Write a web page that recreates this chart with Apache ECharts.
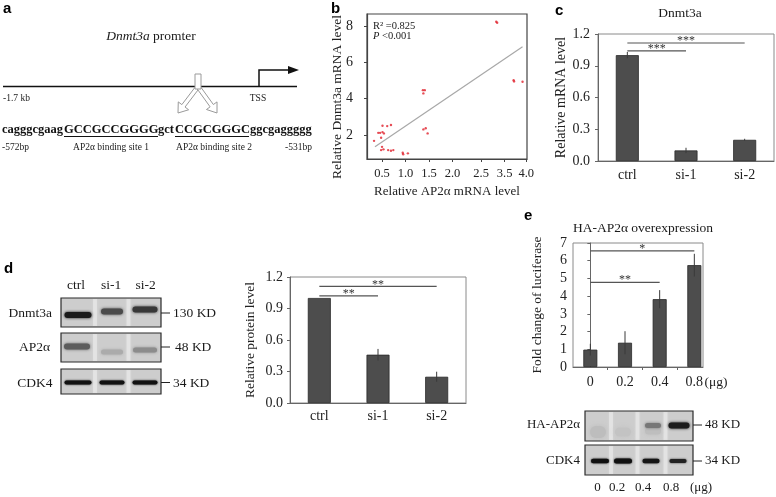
<!DOCTYPE html>
<html>
<head>
<meta charset="utf-8">
<script src="https://cdn.jsdelivr.net/npm/echarts@6/dist/echarts.min.js"></script>
<style>
  html, body { margin: 0; padding: 0; background: #fff; }
  #main { width: 776px; height: 497px; }
</style>
</head>
<body>
<div id="main"></div>
<script>
// ---------- data ----------
// b: AP2α vs Dnmt3a mRNA (x read in the units of the drawn axis)
const scatterX = [2.93, 2.95, 1.37, 1.41, 1.38, 1.38, 1.43, 1.47, 0.33, 0.42, 0.46, 0.51, 0.54,
  0.51, 0.61, 0.69, 0.48, 0.50, 0.53, 0.48, 0.63, 0.69, 0.74, 0.94, 0.95, 1.05, 3.30, 3.31, 3.49]
const scatterY = [8.23, 8.18, 4.47, 4.47, 4.29, 2.31, 2.37, 2.09, 1.68, 2.12, 2.12, 2.16, 2.09,
  2.51, 2.49, 2.55, 1.85, 1.35, 1.21, 1.17, 1.17, 1.13, 1.17, 1.02, 0.94, 0.99, 5.02, 4.95, 4.93]
const fitLine = [[0.35, 1.35], [3.49, 6.86]]
const bTickPos = [0.5, 1.0, 1.5, 2.0, 2.61, 3.11, 3.57]
const bTickLabels = ['0.5', '1.0', '1.5', '2.0', '2.5', '3.5', '4.0']
const bYTicks = [2, 4, 6, 8]

// c: Dnmt3a mRNA after AP2α knockdown
const siCats = ['ctrl', 'si-1', 'si-2']
const cValues = [1.0, 0.1, 0.2]
const cErr = [0.03, 0.025, 0.01]
const cSig = [[0, 1, 1.04, '***'], [0, 2, 1.115, '***']]

// d: relative protein level
const dValues = [1.0, 0.46, 0.25]
const dErr = [0.0, 0.055, 0.048]
const dSig = [[0, 1, 1.02, '**'], [0, 2, 1.11, '**']]

// e: luciferase, HA-AP2α dose
const eCats = ['0', '0.2', '0.4', '0.8']
const eValues = [0.98, 1.37, 3.83, 5.75]
const eErr = [0.33, 0.65, 0.51, 0.64]
const eSig = [[0, 2, 4.78, '**'], [0, 3, 6.55, '*']]

// ---------- helpers ----------
const SERIF = "'Liberation Serif', 'Times New Roman', serif"
const SANS = "'Liberation Sans', Arial, sans-serif"

function T(text, x, y, opt) {
  opt = opt || {}
  const al = opt.align || 'left'
  return {
    type: 'text', x: x, y: y, silent: true, rotation: opt.rotation || 0,
    style: {
      text: text, font: opt.font || ('13px ' + SERIF), fill: opt.fill || '#1a1a1a',
      align: al, textAlign: al, verticalAlign: 'middle', textVerticalAlign: 'middle',
      rich: opt.rich
    }
  }
}
function L(x1, y1, x2, y2, w, c) {
  return { type: 'line', silent: true, shape: { x1, y1, x2, y2 }, style: { stroke: c || '#000', lineWidth: w || 1 } }
}
// hollow arrow outline
function arrow(x0, y0, x1, y1) {
  const dx = x1 - x0, dy = y1 - y0, len = Math.hypot(dx, dy)
  const ux = dx / len, uy = dy / len, nx = -uy, ny = ux
  const sw = 2, hw = 6.5, hl = 9
  const kx = x1 - ux * hl, ky = y1 - uy * hl
  return {
    type: 'polygon', silent: true,
    shape: { points: [
      [x0 + nx * sw, y0 + ny * sw], [kx + nx * sw, ky + ny * sw], [kx + nx * hw, ky + ny * hw], [x1, y1],
      [kx - nx * hw, ky - ny * hw], [kx - nx * sw, ky - ny * sw], [x0 - nx * sw, y0 - ny * sw]
    ] },
    style: { fill: '#fff', stroke: '#9a9a9a', lineWidth: 1 }
  }
}
// western blot strip
function blot(x, y, w, h, lanes, bands) {
  const els = [{ type: 'rect', silent: true, shape: { x, y, width: w, height: h }, style: { fill: '#cdcdcd' } }]
  for (let i = 0; i < lanes.length - 1; i++) {
    const gx = (lanes[i] + lanes[i + 1]) / 2
    els.push({ type: 'rect', silent: true, shape: { x: gx - 2, y: y + 1, width: 4, height: h - 2 },
      style: { fill: 'rgba(255,255,255,0.35)', shadowBlur: 3, shadowColor: 'rgba(255,255,255,0.6)' } })
  }
  bands.forEach(b => els.push({
    type: 'rect', silent: true,
    shape: { x: b[0] - b[2] / 2, y: b[1] - b[3] / 2, width: b[2], height: b[3], r: b[3] / 2 },
    style: { fill: b[4], shadowBlur: b[5] || 3, shadowColor: b[4] }
  }))
  els.push({ type: 'rect', silent: true, shape: { x, y, width: w, height: h }, style: { fill: 'none', stroke: '#2b2b2b', lineWidth: 1.2 } })
  return els
}

function errSeries(xi, values, errs) {
  return {
    type: 'custom', xAxisIndex: xi, yAxisIndex: xi, silent: true, z: 5,
    data: values.map((v, i) => [i, v - errs[i], v + errs[i]]).filter((d, i) => errs[i] > 0),
    renderItem: function (params, api) {
      const lo = api.coord([api.value(0), api.value(1)])
      const hi = api.coord([api.value(0), api.value(2)])
      return { type: 'line', shape: { x1: lo[0], y1: lo[1], x2: hi[0], y2: hi[1] }, style: { stroke: '#3a3a3a', lineWidth: 1 } }
    }
  }
}
function sigSeries(xi, sig) {
  return {
    type: 'custom', xAxisIndex: xi, yAxisIndex: xi, silent: true, z: 6,
    data: sig.map(s => [s[0], s[1], s[2]]),
    renderItem: function (params, api) {
      const a = api.coord([api.value(0), api.value(2)])
      const b = api.coord([api.value(1), api.value(2)])
      return {
        type: 'group', children: [
          { type: 'line', shape: { x1: a[0], y1: a[1], x2: b[0], y2: b[1] }, style: { stroke: '#555', lineWidth: 1.2 } },
          { type: 'text', x: (a[0] + b[0]) / 2, y: a[1] - 2,
            style: { text: sig[params.dataIndex][3], font: '12px ' + SERIF, fill: '#333', align: 'center', verticalAlign: 'middle' } }
        ]
      }
    }
  }
}

const labelStyle = { color: '#222', fontFamily: SERIF, fontSize: 14 }
const nameStyle = { color: '#222', fontFamily: SERIF, fontSize: 14 }
const barStyle = { color: '#4d4d4d', borderColor: '#2a2a2a', borderWidth: 0.8 }

// ---------- panel a, blots, free text ----------
const g = []
// panel letters
g.push(T('a', 3, 9, { font: 'bold 15px ' + SANS, fill: '#000' }))
g.push(T('b', 331, 9, { font: 'bold 15px ' + SANS, fill: '#000' }))
g.push(T('c', 555, 11, { font: 'bold 15px ' + SANS, fill: '#000' }))
g.push(T('d', 4, 269, { font: 'bold 15px ' + SANS, fill: '#000' }))
g.push(T('e', 524, 216, { font: 'bold 15px ' + SANS, fill: '#000' }))

// a: promoter map
g.push(T('{i|Dnmt3a} promter', 151, 36, { align: 'center', font: '13.5px ' + SERIF,
  rich: { i: { fontStyle: 'italic', fontFamily: SERIF, fontSize: 13.5, fill: '#1a1a1a' } } }))
g.push(L(3, 86.5, 297, 86.5, 1.5, '#111'))
g.push({ type: 'polyline', silent: true, shape: { points: [[259, 86.5], [259, 70], [290, 70]] }, style: { stroke: '#111', lineWidth: 1.5, fill: 'none' } })
g.push({ type: 'polygon', silent: true, shape: { points: [[288, 66], [299, 70], [288, 74]] }, style: { fill: '#111' } })
g.push(T('-1.7 kb', 3, 98, { font: '9.5px ' + SERIF }))
g.push(T('TSS', 258, 98, { font: '9.5px ' + SERIF, align: 'center' }))
g.push(arrow(197, 88, 178, 113))
g.push(arrow(199, 88, 217, 113))
g.push({ type: 'rect', silent: true, shape: { x: 195, y: 74, width: 6, height: 15 }, style: { fill: '#fff', stroke: '#9a9a9a', lineWidth: 1 } })
const seqFont = 'bold 12.5px ' + SERIF
g.push(T('cagggcgaag', 2, 129.5, { font: seqFont, fill: '#111' }))
g.push(T('GCCGCCGGGG', 64, 129.5, { font: seqFont, fill: '#111' }))
g.push(T('gct', 158, 129.5, { font: seqFont, fill: '#111' }))
g.push(T('CCGCGGGC', 175, 129.5, { font: seqFont, fill: '#111' }))
g.push(T('ggcgaggggg', 250, 129.5, { font: seqFont, fill: '#111' }))
g.push(L(64, 136.5, 158, 136.5, 1.2, '#111'))
g.push(L(175, 136.5, 249, 136.5, 1.2, '#111'))
g.push(T('-572bp', 2, 147, { font: '9.5px ' + SERIF }))
g.push(T('AP2α binding site 1', 111, 147, { font: '9.5px ' + SERIF, align: 'center' }))
g.push(T('AP2α binding site 2', 214, 147, { font: '9.5px ' + SERIF, align: 'center' }))
g.push(T('-531bp', 312, 147, { font: '9.5px ' + SERIF, align: 'right' }))

// b: y axis title and statistics text
g.push(T('Relative Dnmt3a mRNA level', 337, 97, { align: 'center', font: '13.5px ' + SERIF, fill: '#222', rotation: Math.PI / 2 }))
g.push(T('R² =0.825', 373, 26.5, { font: '10.5px ' + SERIF }))
g.push(T('{i|P} <0.001', 373, 36, { font: '10.5px ' + SERIF,
  rich: { i: { fontStyle: 'italic', fontFamily: SERIF, fontSize: 10.5, fill: '#1a1a1a' } } }))

// c / e chart titles
g.push(T('Dnmt3a', 680, 13, { align: 'center', font: '13.5px ' + SERIF }))
g.push(T('HA-AP2α overexpression', 643, 228, { align: 'center', font: '13.5px ' + SERIF }))
g.push(T('(μg)', 716, 382, { align: 'center', font: '13.5px ' + SERIF }))

// d: western blot
const bf = '13.5px ' + SERIF
g.push(T('ctrl', 76, 285, { align: 'center', font: bf }))
g.push(T('si-1', 111, 285, { align: 'center', font: bf }))
g.push(T('si-2', 145.5, 285, { align: 'center', font: bf }))
const dLanes = [78, 112, 145]
g.push(...blot(61, 298, 100, 29, dLanes, [
  [78, 315, 27, 6, '#1a1a1a'], [112, 311.5, 22, 6, '#4a4a4a'], [145, 309.5, 25, 6, '#383838']]))
g.push(...blot(61, 333, 100, 29, dLanes, [
  [77, 346.5, 26, 6, '#5c5c5c'], [112, 352, 22, 5, '#ababab'], [145, 350, 24, 5, '#8c8c8c']]))
g.push(...blot(61, 369, 100, 25, dLanes, [
  [78, 382.5, 27, 4, '#111', 2], [112, 382.5, 25, 4, '#111', 2], [145, 382.5, 25, 4, '#111', 2]]))
g.push(T('Dnmt3a', 52, 313, { align: 'right', font: bf }))
g.push(T('AP2α', 50, 347, { align: 'right', font: bf }))
g.push(T('CDK4', 52.5, 383, { align: 'right', font: bf }))
g.push(L(161, 313, 170, 313, 1, '#222')); g.push(T('130 KD', 173, 313.5, { font: bf }))
g.push(L(161, 347, 170, 347, 1, '#222')); g.push(T('48 KD', 175, 347.5, { font: bf }))
g.push(L(161, 382.5, 170, 382.5, 1, '#222')); g.push(T('34 KD', 173, 383, { font: bf }))

// e: western blot
const eLanes = [599, 623, 652, 679]
g.push(...blot(585, 411, 108, 30, eLanes, [
  [598, 432, 16, 12, '#bdbdbd', 5], [623, 432, 16, 9, '#c3c3c3', 5],
  [653, 431, 16, 7, '#bebebe', 4],
  [653, 425.5, 16, 5, '#777'], [679, 425.5, 21, 6, '#1c1c1c']]))
g.push(...blot(585, 445, 108, 30, eLanes, [
  [600, 461, 18, 4.5, '#111', 2], [623, 461, 18, 5, '#111', 2], [651, 461, 17, 4.5, '#151515', 2], [678, 461, 17, 4, '#222', 2]]))
g.push(T('HA-AP2α', 580, 424.5, { align: 'right', font: '13px ' + SERIF }))
g.push(T('CDK4', 580, 461, { align: 'right', font: '13px ' + SERIF }))
g.push(L(693, 425, 702, 425, 1, '#222')); g.push(T('48 KD', 705, 425, { font: '13px ' + SERIF }))
g.push(L(693, 461, 702, 461, 1, '#222')); g.push(T('34 KD', 705, 461, { font: '13px ' + SERIF }))
g.push(T('0', 597.5, 488, { align: 'center', font: '13px ' + SERIF }))
g.push(T('0.2', 617, 488, { align: 'center', font: '13px ' + SERIF }))
g.push(T('0.4', 643, 488, { align: 'center', font: '13px ' + SERIF }))
g.push(T('0.8', 671, 488, { align: 'center', font: '13px ' + SERIF }))
g.push(T('(μg)', 701, 488, { align: 'center', font: '13px ' + SERIF }))

// ---------- chart ----------
const chart = echarts.init(document.getElementById('main'))

const near = (arr, v) => arr.findIndex(p => Math.abs(p - v) < 1e-6)

chart.setOption({
  animation: false,
  backgroundColor: '#fff',
  grid: [
    { left: 367, top: 14, width: 160, height: 145, show: true, borderColor: '#444', borderWidth: 1.2 },
    { left: 598, top: 34, width: 176, height: 127, show: true, borderColor: '#8a8a8a', borderWidth: 1 },
    { left: 290, top: 277, width: 176, height: 126, show: true, borderColor: '#8a8a8a', borderWidth: 1 },
    { left: 573, top: 243, width: 130, height: 124, show: true, borderColor: '#8a8a8a', borderWidth: 1 }
  ],
  xAxis: [
    {
      gridIndex: 0, type: 'value', min: 0.18, max: 3.585,
      name: 'Relative AP2α mRNA level', nameLocation: 'middle', nameGap: 26, nameTextStyle: { ...nameStyle, fontSize: 13 },
      axisLine: { lineStyle: { color: '#444', width: 1.2 } },
      axisTick: { customValues: bTickPos, length: 3, lineStyle: { color: '#444' } },
      axisLabel: { customValues: bTickPos, margin: 8, ...labelStyle, fontSize: 12.5,
        formatter: v => bTickLabels[near(bTickPos, v)] },
      splitLine: { show: false }
    },
    {
      gridIndex: 1, type: 'category', data: siCats,
      axisLine: { lineStyle: { color: '#666' } },
      axisTick: { alignWithLabel: false, length: 3, lineStyle: { color: '#666' } },
      axisLabel: { margin: 7, ...labelStyle }
    },
    {
      gridIndex: 2, type: 'category', data: siCats,
      axisLine: { lineStyle: { color: '#666' } },
      axisTick: { alignWithLabel: false, length: 3, lineStyle: { color: '#666' } },
      axisLabel: { margin: 6, ...labelStyle }
    },
    {
      gridIndex: 3, type: 'value', min: -0.5, max: 3.25,
      axisLine: { lineStyle: { color: '#666' } },
      axisTick: { customValues: [0.5, 1.5, 2.5], length: 3, lineStyle: { color: '#666' } },
      axisLabel: { customValues: [0, 1, 2, 3], margin: 8, ...labelStyle, formatter: v => eCats[Math.round(v)] },
      splitLine: { show: false }
    }
  ],
  yAxis: [
    {
      gridIndex: 0, type: 'value', min: 0.68, max: 8.66,
      axisLine: { show: true, lineStyle: { color: '#444', width: 1.2 } },
      axisTick: { show: true, customValues: bYTicks, length: 3, lineStyle: { color: '#444' } },
      axisLabel: { customValues: bYTicks, margin: 14, ...labelStyle },
      splitLine: { show: false }
    },
    {
      gridIndex: 1, type: 'value', min: 0, max: 1.2, interval: 0.3,
      name: 'Relative mRNA level', nameLocation: 'middle', nameGap: 28, nameTextStyle: nameStyle,
      axisLine: { show: true, lineStyle: { color: '#666' } },
      axisTick: { show: true, length: 3, lineStyle: { color: '#666' } },
      axisLabel: { margin: 8, ...labelStyle, formatter: v => v.toFixed(1) },
      splitLine: { show: false }
    },
    {
      gridIndex: 2, type: 'value', min: 0, max: 1.2, interval: 0.3,
      name: 'Relative protein level', nameLocation: 'middle', nameGap: 33, nameTextStyle: { ...nameStyle, fontSize: 13.5 },
      axisLine: { show: true, lineStyle: { color: '#666' } },
      axisTick: { show: true, length: 3, lineStyle: { color: '#666' } },
      axisLabel: { margin: 7, ...labelStyle, formatter: v => v.toFixed(1) },
      splitLine: { show: false }
    },
    {
      gridIndex: 3, type: 'value', min: 0, max: 7, interval: 1,
      name: 'Fold change of luciferase', nameLocation: 'middle', nameGap: 29, nameTextStyle: { ...nameStyle, fontSize: 13.5 },
      axisLine: { show: true, lineStyle: { color: '#666' } },
      axisTick: { show: true, length: 3, lineStyle: { color: '#666' } },
      axisLabel: { margin: 6, ...labelStyle },
      splitLine: { show: false }
    }
  ],
  series: [
    // b
    { type: 'line', xAxisIndex: 0, yAxisIndex: 0, data: fitLine, symbol: 'none', silent: true,
      lineStyle: { color: '#a8a8a8', width: 1.2 } },
    { type: 'scatter', xAxisIndex: 0, yAxisIndex: 0, symbolSize: 2.4, silent: true,
      data: scatterX.map((x, i) => [x, scatterY[i]]), itemStyle: { color: '#e0202c' } },
    // c
    { type: 'bar', xAxisIndex: 1, yAxisIndex: 1, data: cValues, barWidth: 23, itemStyle: barStyle, silent: true },
    errSeries(1, cValues, cErr),
    sigSeries(1, cSig),
    // d
    { type: 'bar', xAxisIndex: 2, yAxisIndex: 2, data: dValues, barWidth: 23, itemStyle: barStyle, silent: true },
    errSeries(2, dValues, dErr),
    sigSeries(2, dSig),
    // e
    { type: 'bar', xAxisIndex: 3, yAxisIndex: 3, data: eValues.map((v, i) => [i, v]), barWidth: 14, itemStyle: barStyle, silent: true },
    errSeries(3, eValues, eErr),
    sigSeries(3, eSig)
  ],
  graphic: { elements: g }
})
</script>
</body>
</html>
